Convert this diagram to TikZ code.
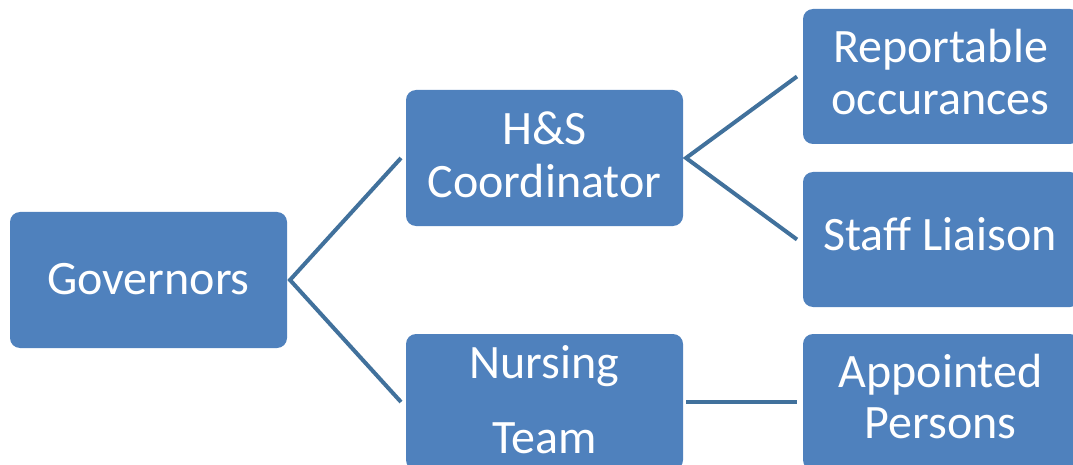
\documentclass[tikz,border=0pt]{standalone}
\usepackage{fontspec}
\setmainfont{Carlito}
\usetikzlibrary{calc}
\definecolor{boxblue}{RGB}{79,129,189}
\definecolor{lineblue}{RGB}{65,113,156}
\begin{document}
\begin{tikzpicture}[x=1pt,y=-1pt,
  box/.style={fill=boxblue, rounded corners=10pt, minimum width=277pt, minimum height=136pt, inner sep=0pt, outer sep=0pt},
  lbl/.style={text=white, font=\fontsize{48}{52}\selectfont, anchor=base, inner sep=0pt},
  conn/.style={draw=lineblue, line width=4pt}]
\useasboundingbox (0,0) rectangle (1073,465);
\clip (0,0) rectangle (1073,465);
% boxes
\node[box] (gov) at (148.5,280) {};
\node[box] (hs) at (544.5,158) {};
\node[box] (nur) at (544.5,402) {};
\node[box, minimum height=135pt] (rep) at (941.5,76.5) {};
\node[box, minimum height=135pt] (staff) at (941.5,239.5) {};
\node[box] (app) at (941.5,402) {};
% labels
\node[lbl] (govt) at (148.5,294) {Governors};
\node[lbl] (hst1) at (544.5,145) {H\&S};
\node[lbl] (hst2) at (544.5,197) {Coordinator};
\node[lbl] (nurt1) at (544.5,378) {Nursing};
\node[lbl] (nurt2) at (544.5,453) {Team};
\node[lbl] (rept1) at (940.5,63) {Reportable};
\node[lbl] (rept2) at (940.5,115) {occurances};
\node[lbl] (stafft) at (940,250) {Staff Liaison};
\node[lbl] (appt1) at (940.5,387) {Appointed};
\node[lbl] (appt2) at (940.5,438) {Persons};
% connectors
\draw[conn] ($(hs.west)+(-5,0)$) -- ($(gov.east)+(3,0)$) -- ($(nur.west)+(-5,0)$);
\draw[conn] ($(rep.west)+(-6,0)$) -- ($(hs.east)+(3,0)$) -- ($(staff.west)+(-6,0)$);
\draw[conn] ($(nur.east)+(3,0)$) -- ($(app.west)+(-6,0)$);
\end{tikzpicture}
\end{document}
